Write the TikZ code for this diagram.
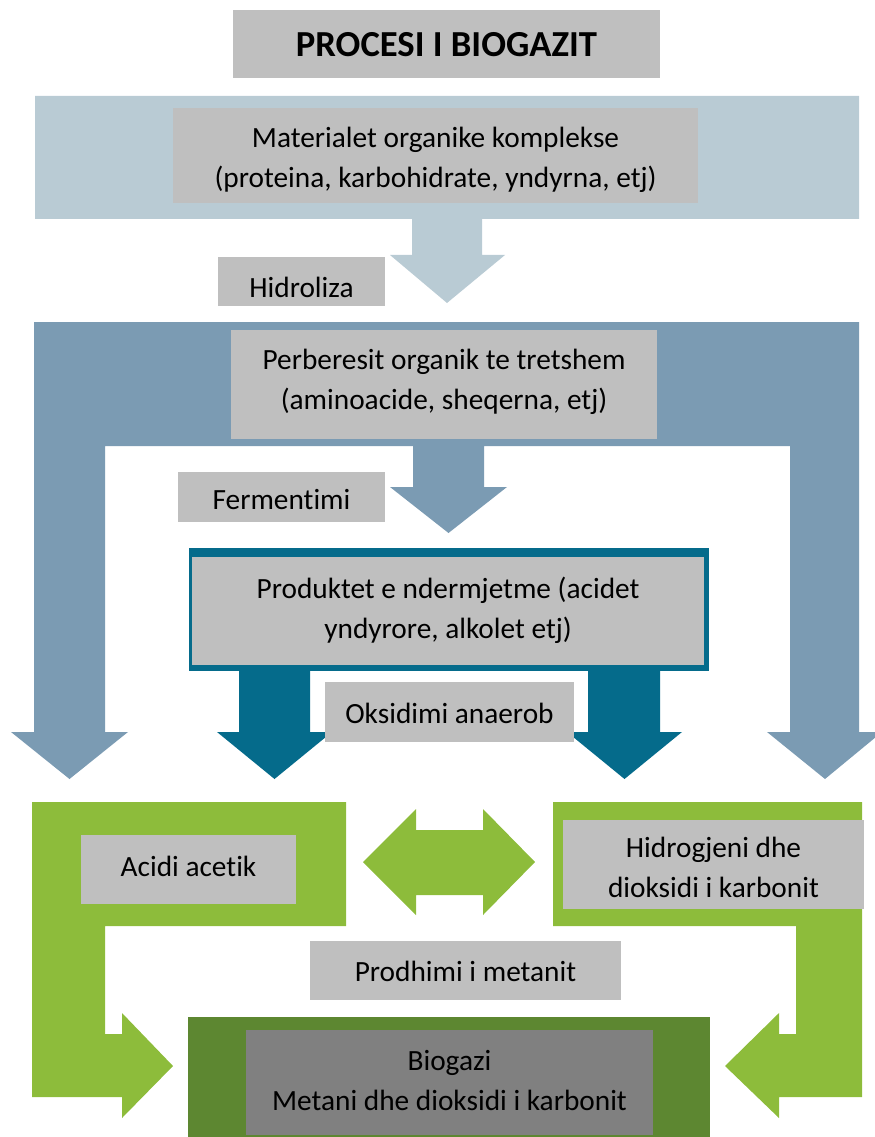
\documentclass[tikz,border=0pt]{standalone}
\usepackage{fontspec}
\setmainfont{Carlito}[Ligatures=NoCommon]
\definecolor{lightband}{HTML}{B9CBD4}
\definecolor{midband}{HTML}{7B9BB3}
\definecolor{tealc}{HTML}{056B8B}
\definecolor{greenc}{HTML}{8DBC3B}
\definecolor{darkgreenc}{HTML}{5D8731}
\definecolor{boxgray}{HTML}{BFBFBF}
\definecolor{darkboxgray}{HTML}{808080}
\tikzset{
  lbl/.style={fill=boxgray, inner sep=0pt, align=center, font=\fontsize{22}{30}\selectfont},
  txt/.style={inner sep=0pt, align=center, font=\fontsize{22}{30}\selectfont},
}
\begin{document}
\begin{tikzpicture}[x=0.75pt,y=-0.75pt]
\useasboundingbox (0,0) rectangle (874,1137);
% title
\fill[boxgray] (233,10) rectangle (660,78);
\node[inner sep=0pt, font=\fontsize{27.5}{30}\selectfont\bfseries] (title) at (446.5,45) {PROCESI I BIOGAZIT};
% light band with arrow
\fill[lightband] (35,96) -- (859,96) -- (859,219) -- (482,219) -- (482,255) -- (505,255) -- (447,303) -- (390,255) -- (412,255) -- (412,219) -- (35,219) -- cycle;
% medium band with three arrows
\fill[midband] (34,322) -- (859,322) -- (859,732) -- (882,732) -- (825,779) -- (767,732) -- (790,732) -- (790,446)
  -- (484,446) -- (484,487) -- (507,487) -- (448.5,533) -- (390,487) -- (413,487) -- (413,446)
  -- (105,446) -- (105,732) -- (128,732) -- (69.5,779) -- (11,732) -- (34,732) -- cycle;
% teal box and arrows
\fill[tealc] (189,548) rectangle (709,671);
\fill[tealc] (239,671) -- (310,671) -- (310,732) -- (332,732) -- (274.5,779) -- (217,732) -- (239,732) -- cycle;
\fill[tealc] (588,671) -- (660,671) -- (660,732) -- (682,732) -- (624.5,779) -- (567,732) -- (588,732) -- cycle;
% green shapes
\fill[greenc] (32,802) -- (346,802) -- (346,926) -- (105,926) -- (105,1034) -- (122,1034) -- (122,1013) -- (173,1066) -- (122,1118) -- (122,1097) -- (32,1097) -- cycle;
\fill[greenc] (862,802) -- (553,802) -- (553,926) -- (796,926) -- (796,1034) -- (779,1034) -- (779,1013) -- (725,1066) -- (779,1118) -- (779,1097) -- (862,1097) -- cycle;
\fill[greenc] (363,862) -- (416,809) -- (416,830) -- (483,830) -- (483,809) -- (535,862) -- (483,915) -- (483,895) -- (416,895) -- (416,915) -- cycle;
\fill[darkgreenc] (188,1017) rectangle (710,1137);
% boxes
\node[lbl, minimum width=525*0.75pt, minimum height=95*0.75pt] (mat) at (435.5,155.5) {};
\node[txt] at (435.5,160) {Materialet organike komplekse\\(proteina, karbohidrate, yndyrna, etj)};
\node[lbl, minimum width=167*0.75pt, minimum height=49*0.75pt] (hid) at (301.5,281.5) {};
\node[txt] at (301.5,287) {Hidroliza};
\node[lbl, minimum width=426*0.75pt, minimum height=109*0.75pt] (per) at (444,384.5) {};
\node[txt] at (444,382) {Perberesit organik te tretshem\\(aminoacide, sheqerna, etj)};
\node[lbl, minimum width=207*0.75pt, minimum height=50*0.75pt] (fer) at (281.5,497) {};
\node[txt] at (281.5,500) {Fermentimi};
\node[lbl, minimum width=512*0.75pt, minimum height=108*0.75pt] (prod) at (448,611) {};
\node[txt] at (448,610) {Produktet e ndermjetme (acidet\\yndyrore, alkolet etj)};
\node[lbl, minimum width=249*0.75pt, minimum height=60*0.75pt] (oks) at (449.5,712) {};
\node[txt] at (449.5,713) {Oksidimi anaerob};
\node[lbl, minimum width=215*0.75pt, minimum height=69*0.75pt] (ace) at (188.5,869.5) {};
\node[txt] at (188.5,866) {Acidi acetik};
\node[lbl, minimum width=301*0.75pt, minimum height=89*0.75pt] (hyd) at (713.5,864.5) {};
\node[txt] at (713.5,867) {Hidrogjeni dhe\\dioksidi i karbonit};
\node[lbl, minimum width=311*0.75pt, minimum height=59*0.75pt] (met) at (465.5,970.5) {};
\node[txt] at (465.5,971) {Prodhimi i metanit};
\node[fill=darkboxgray, inner sep=0pt, minimum width=407*0.75pt, minimum height=105*0.75pt] (bio) at (449.5,1082.5) {};
\node[txt] at (449.5,1080.5) {Biogazi\\Metani dhe dioksidi i karbonit};
\end{tikzpicture}
\end{document}
